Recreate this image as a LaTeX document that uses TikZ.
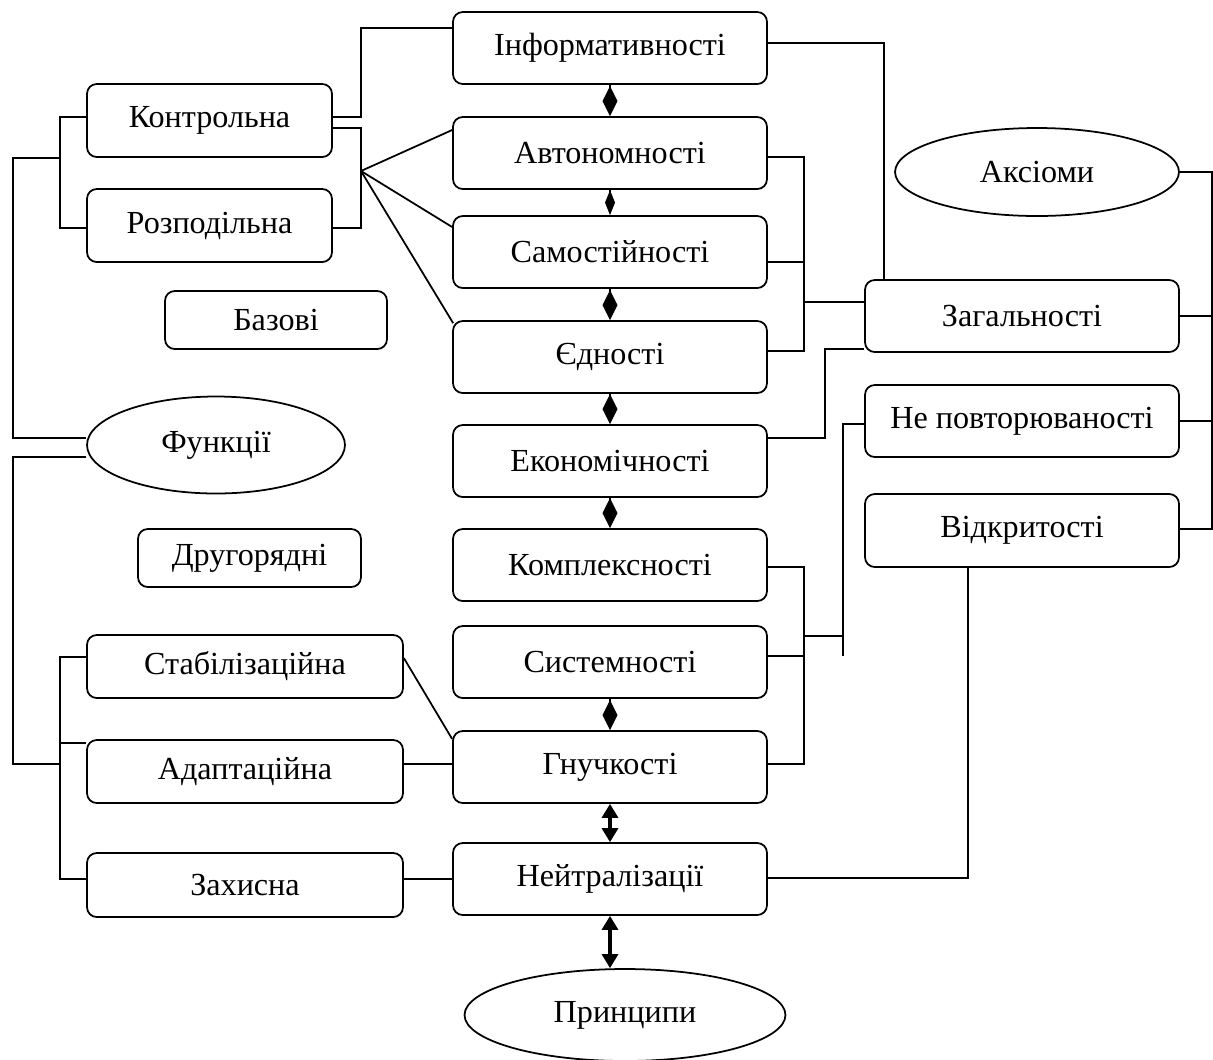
\documentclass[tikz,border=0pt]{standalone}
\usepackage{fontspec}
\setmainfont{Liberation Serif}
\usetikzlibrary{shapes.geometric,arrows.meta}

\tikzset{
  box/.style={draw, rounded corners=5.5pt, inner sep=0pt, minimum width=6.28cm, minimum height=1.44cm},
  oval/.style={draw, ellipse, inner sep=0pt},
  dmd/.style={-{Diamond[length=0.6cm,width=0.3cm]}},
  twoway/.style={line width=1.8pt, {Triangle[length=0.28cm,width=0.32cm]}-{Triangle[length=0.28cm,width=0.32cm]}}
}

\begin{document}
\begin{tikzpicture}[x=0.02cm, y=-0.02cm, line width=1pt, font=\fontsize{18.3}{21}\selectfont]
\useasboundingbox (0,0) rectangle (1213,1059);

% principles, middle column
\node [box] (inf) at (610,48)  {Інформативності};
\node [box] (avt) at (610,153) {Автономності};
\node [box] (sam) at (610,252) {Самостійності};
\node [box] (jed) at (610,357) {Єдності};
\node [box] (eko) at (610,461) {Економічності};
\node [box] (kom) at (610,565) {Комплексності};
\node [box] (sys) at (610,662) {Системності};
\node [box] (gnu) at (610,767) {Гнучкості};
\node [box] (nei) at (610,879) {Нейтралізації};
\node [oval, minimum width=6.42cm, minimum height=1.84cm] (pri) at (625,1015) {Принципи};

% functions, left column
\node [box, minimum width=4.9cm, minimum height=1.46cm] (kon) at (209.5,120.5) {Контрольна};
\node [box, minimum width=4.9cm, minimum height=1.46cm] (roz) at (209.5,225.5) {Розподільна};
\node [box, minimum width=4.44cm, minimum height=1.16cm] (baz) at (276,320) {Базові};
\node [oval, minimum width=5.16cm, minimum height=1.94cm] (fun) at (216,445) {Функції};
\node [box, minimum width=4.46cm, minimum height=1.16cm] (dru) at (249.5,558) {Другорядні};
\node [box, minimum width=6.32cm, minimum height=1.26cm] (sta) at (245,666.5) {Стабілізаційна};
\node [box, minimum width=6.32cm, minimum height=1.26cm] (ada) at (245,771.5) {Адаптаційна};
\node [box, minimum width=6.32cm, minimum height=1.28cm] (zah) at (245,885) {Захисна};

% axioms, right column
\node [oval, minimum width=5.68cm, minimum height=1.76cm] (aks) at (1037,172) {Аксіоми};
\node [box] (zag) at (1022,316) {Загальності};
\node [box] (nep) at (1022,421) {Не повторюваності};
\node [box, minimum height=1.46cm] (vid) at (1022,530.5) {Відкритості};

% links inside the middle column
\foreach \a/\b in {inf/avt, sam/jed, jed/eko, eko/kom, sys/gnu}
  \draw [dmd] (\a) -- (\b);
\draw [-{Diamond[length=0.5cm,width=0.2cm]}] (avt) -- (sam);
\draw [twoway] (gnu) -- (nei);
\draw [twoway] (nei.south) -- (nei.south |- pri.north);

% left side
\coordinate (k1) at (361,117);
\coordinate (k2) at (361,28);
\coordinate (k3) at (361,128);
\coordinate (k4) at (361,228);
\coordinate (k5) at (361,171);
\draw (kon.east |- k1) -- (k1) -- (k2) -- (inf.west |- k2);
\draw (kon.east |- k3) -- (k3) -- (k4) -- (roz.east |- k4);
\draw (k5) -- ([yshift=0.46cm]avt.west);
\draw (k5) -- ([yshift=0.5cm]sam.west);
\draw (k5) -- ([xshift=0.02cm,yshift=-0.06cm]jed.north west);

\coordinate (l1) at (60,117);
\coordinate (l2) at (60,228);
\coordinate (l3) at (60,158);
\coordinate (l4) at (13,158);
\coordinate (l5) at (13,438);
\coordinate (l6) at (13,457);
\coordinate (l7) at (13,764);
\coordinate (l8) at (60,764);
\coordinate (l9) at (60,657);
\coordinate (l10) at (60,879);
\coordinate (l11) at (60,743);
\draw (kon.west |- l1) -- (l1) -- (l2) -- (roz.west |- l2);
\draw (l3) -- (l4) -- (l5) -- (fun.west |- l5);
\draw (fun.west |- l6) -- (l6) -- (l7) -- (l8);
\draw (sta.west |- l9) -- (l9) -- (l10) -- (zah.west |- l10);
\draw (l11) -- (ada.west |- l11);
\draw ([yshift=0.17cm]sta.east) -- ([yshift=0.56cm]gnu.west);
\draw (ada.east |- l7) -- (gnu.west |- l7);
\draw (zah.east |- l10) -- (nei.west |- l10);

% right side
\coordinate (r1) at (884,43);
\coordinate (r2) at (804,157);
\coordinate (r3) at (804,351);
\coordinate (r4) at (804,302);
\coordinate (r5) at (804,262);
\coordinate (r6) at (825,438);
\coordinate (r7) at (825,349);
\coordinate (r8) at (804,567);
\coordinate (r9) at (804,764);
\coordinate (r10) at (804,656);
\coordinate (r11) at (804,636);
\coordinate (r12) at (843,424);
\coordinate (r13) at (843,656);
\coordinate (r14) at (968,878);
\coordinate (a1) at (1212,172);
\coordinate (a2) at (1212,529);
\draw (inf.east |- r1) -- (r1) -- (r1 |- zag.north);
\draw (avt.east |- r2) -- (r2) -- (r3) -- (jed.east |- r3);
\draw (sam.east |- r5) -- (r5);
\draw (r4) -- (zag.west |- r4);
\draw (eko.east |- r6) -- (r6) -- (r7) -- (zag.west |- r7);
\draw (kom.east |- r8) -- (r8) -- (r9) -- (gnu.east |- r9);
\draw (sys.east |- r10) -- (r10);
\draw (r11) -- (r11 -| r12);
\draw (r13) -- (r12) -- (nep.west |- r12);
\draw (vid.south -| r14) -- (r14) -- (nei.east |- r14);
\draw (aks.east) -- (a1) -- (a2) -- (vid.east |- a2);
\draw (zag.east) -- (zag.east -| a1);
\draw (nep.east) -- (nep.east -| a1);
\end{tikzpicture}
\end{document}
